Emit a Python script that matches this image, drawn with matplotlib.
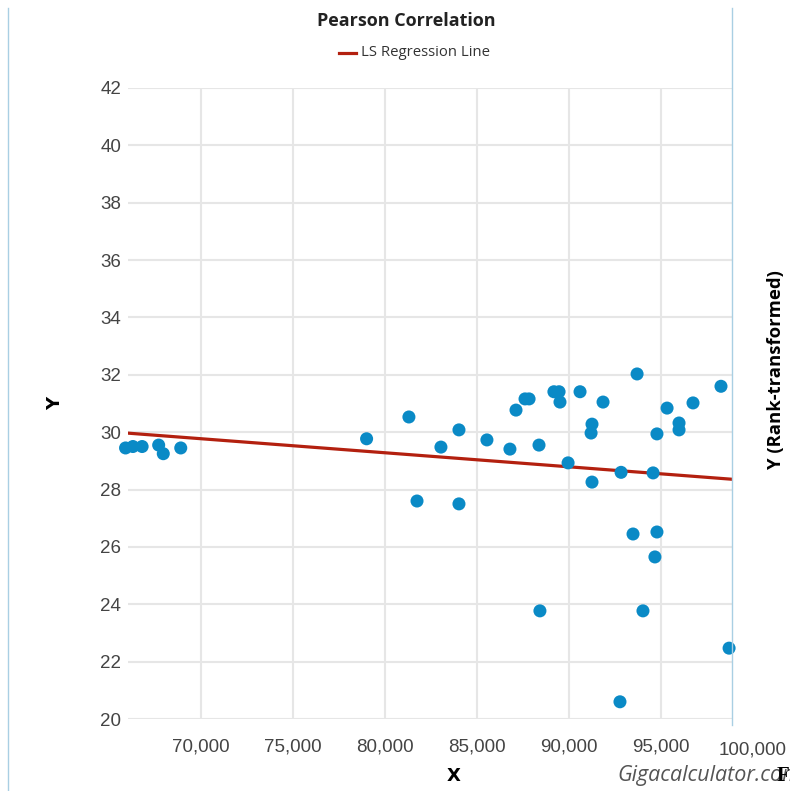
import numpy as np
import matplotlib
matplotlib.use("Agg")
import matplotlib.pyplot as plt
from matplotlib.lines import Line2D
from matplotlib.ticker import FuncFormatter

# ---- data ----
x_vals = [65900, 66300, 66800, 67700, 67950, 68900,
          79000, 81300, 81740, 83040, 84020, 84020, 85540, 86790, 87120,
          87610, 87830, 88370, 89180, 89460, 89510, 89950, 90600, 91250,
          91200, 91250, 91850, 92830,
          93700, 94570, 94780, 95330, 95980, 95980, 96740, 98260, 93480,
          94780, 94670, 88420, 94020, 92770, 98700]
y_vals = [29.45, 29.5, 29.5, 29.55, 29.25, 29.45,
          29.77, 30.53, 27.6, 29.48, 30.08, 27.5, 29.73, 29.41, 30.77,
          31.16, 31.16, 29.55, 31.41, 31.41, 31.05, 28.93, 31.41, 30.28,
          29.97, 28.26, 31.05, 28.6,
          32.03, 28.58, 29.94, 30.84, 30.32, 30.08, 31.02, 31.6, 26.45,
          26.52, 25.65, 23.77, 23.77, 20.6, 22.47]
reg_intercept = 33.20
reg_slope = -4.897e-5
x_range = (66033, 98913)
x_ticks = [70000, 75000, 80000, 85000, 90000, 95000]
x_extra_tick = 100000
y_ticks = list(range(20, 43, 2))

W, H = 790, 791
fig = plt.figure(figsize=(W / 100, H / 100), dpi=100)
ax = fig.add_axes([128 / W, (H - 719) / H, (733 - 128) / W, (719 - 88) / H])

ax.set_xlim(*x_range)
ax.set_ylim(20, 42)
ax.set_xticks(x_ticks)
ax.set_yticks(y_ticks)
ax.xaxis.set_major_formatter(FuncFormatter(lambda v, p: f"{int(v):,}"))
ax.grid(True, color="#e6e6e6", linewidth=1.5, zorder=0)
for s in ax.spines.values():
    s.set_visible(False)
ax.tick_params(length=0, labelsize=13.5, labelcolor="#444444", pad=5)
ax.tick_params(axis="x", pad=14)
for lab in ax.get_xticklabels() + ax.get_yticklabels():
    lab.set_fontfamily("Liberation Sans")

# extra 100,000 label (beyond plot range)
ax.text(x_extra_tick, -0.035, f"{x_extra_tick:,}", transform=ax.get_xaxis_transform(),
        ha="center", va="top", fontsize=13.5, color="#444444",
        family="Liberation Sans", clip_on=False)

ax.scatter(x_vals, y_vals, s=88, color="#0a8ac6", edgecolors="none", zorder=3, clip_on=False)
xr = np.array(x_range, dtype=float)
ax.plot(xr, reg_intercept + reg_slope * xr, color="#b3200f", linewidth=2.3, zorder=2)

# title & legend
fig.text(406 / W, 1 - 21 / H, "Pearson Correlation", ha="center", va="center",
         fontsize=13, fontweight="bold", family="Open Sans", color="#222222")
fig.add_artist(Line2D([339 / W, 356 / W], [1 - 53 / H, 1 - 53 / H], color="#b3200f", linewidth=2.3))
fig.text(361 / W, 1 - 53 / H, "LS Regression Line", ha="left", va="center",
         fontsize=10.7, family="Open Sans", color="#333333")

# axis labels
fig.text(55 / W, 1 - 403 / H, "Y", rotation=90, ha="center", va="center",
         fontsize=13, fontweight="bold", family="DejaVu Sans", color="black")
fig.text(454 / W, 1 - 776 / H, "X", ha="center", va="center",
         fontsize=13, fontweight="bold", family="DejaVu Sans", color="black")
fig.text(776 / W, 1 - 370 / H, "Y (Rank-transformed)", rotation=90, ha="center", va="center",
         fontsize=13.3, fontweight="bold", family="Open Sans", color="black")

# watermark
fig.text(617 / W, 1 - 776 / H, "Gigacalculator.com", ha="left", va="center",
         fontsize=15.5, style="italic", family="Open Sans", color="#555555")
fig.text(777 / W, 1 - 776 / H, "F", ha="left", va="center",
         fontsize=15, fontweight="bold", family="Liberation Serif", color="black")

# container borders
fig.add_artist(Line2D([8 / W, 8 / W], [0, 1 - 8 / H], color="#a9cfe3", linewidth=1))
fig.add_artist(Line2D([732 / W, 732 / W], [1 - 725 / H, 1 - 8 / H], color="#a9cfe3", linewidth=1))

fig.savefig("out.png", dpi=100)
